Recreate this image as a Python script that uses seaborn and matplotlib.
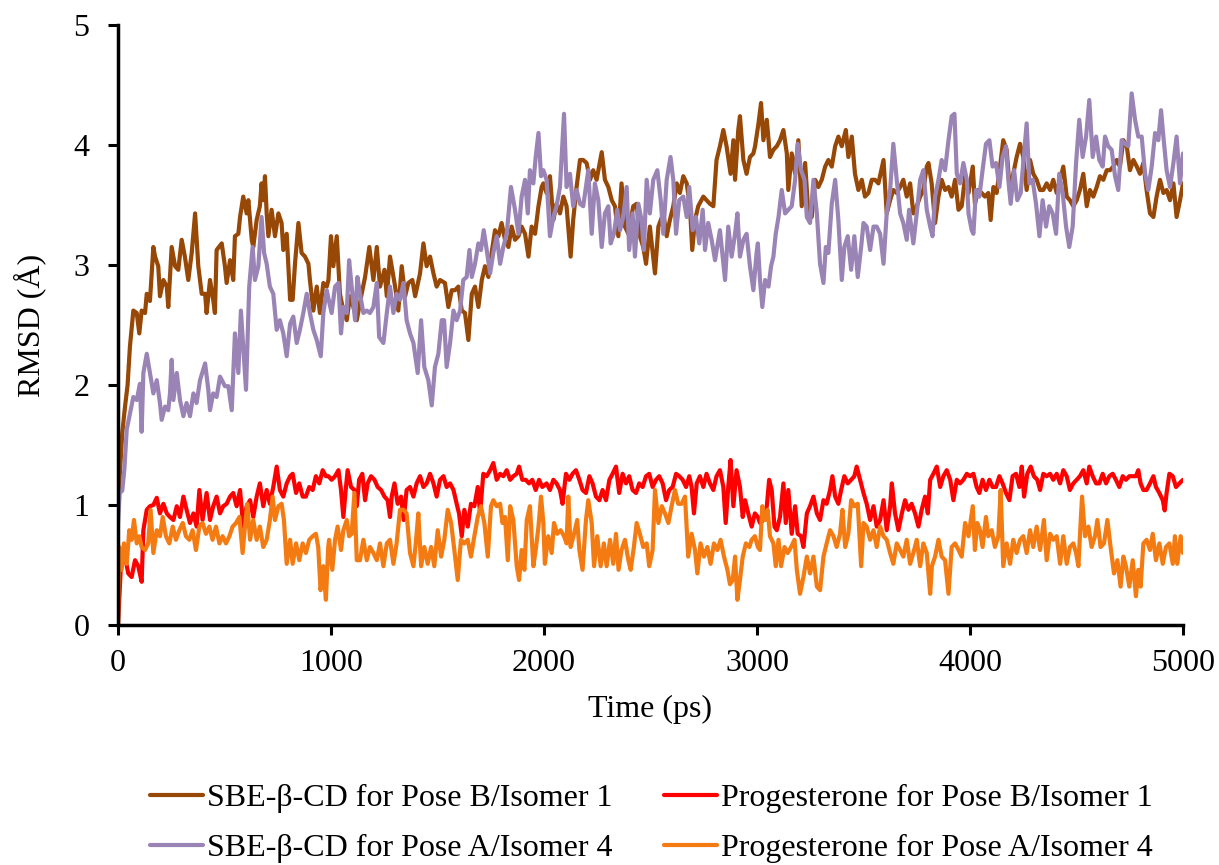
import matplotlib
matplotlib.use("Agg")
import matplotlib.pyplot as plt
import seaborn as sns
import pandas as pd

# (time ps, RMSD Å)
sbe_pose_b = [(0,1.0),(10,1.3),(20,1.6),(33,1.82),(45,2.0),(56,2.32),(72,2.62),(88,2.60),(100,2.43),(111,2.62),(127,2.60),(135,2.76),(150,2.70),(166,3.15),(174,3.07),(189,2.99),(197,2.74),(213,2.875),(229,2.82),(236,2.65),(252,3.15),(268,2.99),(283,2.96),(299,3.21),(314,3.07),(330,2.875),(346,3.10),(362,3.43),(377,2.99),(393,2.76),(409,2.76),(416,2.60),(432,2.875),(447,2.71),(455,2.60),(463,3.125),(487,3.18),(502,2.99),(510,2.85),(526,3.04),(541,2.875),(549,3.24),(565,3.26),(573,3.40),(588,3.57),(604,3.43),(612,3.54),(628,3.21),(635,3.15),(651,3.375),(666,3.49),(674,3.68),(682,3.54),(690,3.74),(698,3.43),(706,3.24),(721,3.46),(737,3.24),(753,3.43),(768,3.35),(776,3.125),(792,3.26),(808,2.71),(820,2.71),(831,3.01),(847,3.35),(862,3.10),(878,3.07),(894,3.01),(901,2.875),(917,2.62),(933,2.82),(948,2.60),(964,2.85),(980,2.82),
(988,2.875),(1000,3.24),(1011,2.99),(1027,3.24),(1042,2.76),(1058,2.62),(1074,2.54),(1089,2.74),(1105,2.65),(1121,2.54),(1144,2.76),(1160,2.90),(1180,3.15),(1199,2.875),(1215,3.15),(1230,2.82),(1251,2.96),(1262,2.74),(1277,3.07),(1301,2.82),(1316,2.62),(1332,2.99),(1348,2.74),(1363,2.85),(1382,2.875),(1395,2.74),(1418,2.93),(1434,3.18),(1449,2.99),(1465,3.07),(1481,2.93),(1496,2.82),(1512,2.875),(1535,2.85),(1551,2.65),(1567,2.79),(1582,2.79),(1598,2.82),(1614,2.62),(1629,2.60),(1645,2.375),(1661,2.76),(1676,2.82),(1692,2.65),(1708,2.875),(1723,2.99),(1739,2.90),(1754,3.10),(1770,3.29),(1786,3.24),(1801,3.35),(1817,3.21),(1833,3.15),(1848,3.32),(1864,3.21),(1880,3.24),(1895,3.32),(1911,3.26),(1927,3.07),(1942,3.32),(1958,3.26),(1974,3.49),
(1989,3.65),(1997,3.68),(2012,3.60),(2028,3.74),(2044,3.375),(2059,3.51),(2075,3.43),(2091,3.57),(2106,3.49),(2125,3.07),(2137,3.375),(2153,3.65),(2169,3.875),(2184,3.875),(2200,3.85),(2216,3.71),(2231,3.79),(2247,3.71),(2271,3.94),(2286,3.71),(2302,3.65),(2318,3.54),(2333,3.49),(2349,3.24),(2364,3.68),(2380,3.32),(2396,3.26),(2419,3.49),(2435,3.51),(2450,3.24),(2466,3.15),(2479,3.01),(2497,3.32),(2521,2.93),(2537,3.32),(2560,3.43),(2576,3.24),(2591,3.375),(2607,3.49),(2623,3.68),(2638,3.60),(2654,3.74),(2670,3.68),(2685,3.49),(2696,3.125),(2709,3.375),(2724,3.49),(2748,3.57),(2763,3.54),(2779,3.51),(2795,3.49),(2810,3.875),(2826,3.99),(2842,4.125),(2857,3.99),(2876,3.76),(2889,4.04),(2897,3.71),(2912,4.125),(2920,4.24),(2936,3.875),(2951,3.76),(2967,3.90),(2983,3.93),
(2991,3.99),(3007,4.18),(3019,4.35),(3030,4.04),(3046,4.21),(3061,3.90),(3077,3.96),(3093,3.99),(3108,4.04),(3124,4.125),(3140,3.93),(3147,3.625),(3163,3.93),(3179,3.76),(3194,4.04),(3210,3.49),(3226,3.85),(3241,3.43),(3257,3.40),(3273,3.71),(3288,3.65),(3304,3.71),(3320,3.82),(3335,3.875),(3351,3.82),(3367,3.99),(3382,4.07),(3398,3.99),(3417,4.125),(3429,3.90),(3445,4.07),(3460,3.76),(3476,3.625),(3492,3.71),(3507,3.57),(3523,3.60),(3539,3.71),(3554,3.71),(3570,3.68),(3594,3.875),(3609,3.43),(3625,3.54),(3640,3.625),(3656,3.60),(3672,3.65),(3687,3.71),(3703,3.57),(3719,3.68),(3734,3.43),(3750,3.49),(3766,3.57),(3781,3.625),(3797,3.82),(3805,3.85),(3820,3.68),(3836,3.35),(3852,3.57),(3867,3.71),(3883,3.625),(3899,3.65),(3914,3.57),(3930,3.71),(3946,3.46),(3961,3.49),(3977,3.74),(3993,3.60),
(4013,3.82),(4023,3.51),(4039,3.625),(4055,3.60),(4070,3.57),(4086,3.60),(4097,3.375),(4110,3.65),(4125,3.60),(4141,3.82),(4156,4.04),(4172,3.96),(4188,3.60),(4203,3.76),(4219,3.90),(4235,4.01),(4250,3.90),(4266,3.625),(4282,3.875),(4297,3.76),(4313,3.71),(4329,3.625),(4344,3.625),(4360,3.68),(4376,3.625),(4391,3.71),(4407,3.60),(4423,3.71),(4438,3.82),(4454,3.57),(4469,3.54),(4485,3.49),(4501,3.54),(4516,3.625),(4532,3.76),(4548,3.49),(4563,3.625),(4579,3.57),(4595,3.65),(4610,3.74),(4626,3.71),(4642,3.79),(4657,3.79),(4673,3.82),(4689,3.875),(4704,3.82),(4720,4.04),(4736,3.99),(4751,3.79),(4767,3.875),(4783,3.82),(4798,3.76),(4814,3.85),(4829,3.625),(4845,3.43),(4861,3.40),(4876,3.57),(4892,3.71),(4908,3.60),(4923,3.625),(4939,3.54),(4955,3.68),(4970,3.40),(4986,3.54),(5000,3.68)]

sbe_pose_a = [(0,0.85),(8,1.1),(20,1.12),(30,1.3),(41,1.63),(56,1.76),(72,1.90),(88,1.875),(103,2.01),(111,1.61),(119,2.10),(135,2.26),(150,2.10),(166,1.93),(182,2.04),(197,1.85),(205,1.71),(221,1.82),(236,1.79),(244,1.93),(252,2.21),(260,1.875),(276,2.10),(291,1.875),(307,1.74),(322,1.85),(338,1.74),(354,1.93),(369,1.85),(385,2.04),(409,2.18),(424,1.96),(432,1.79),(447,1.93),(463,1.90),(479,2.07),(502,1.99),(518,1.99),(534,1.79),(549,2.43),(565,2.10),(577,2.62),(588,2.32),(601,1.96),(616,2.82),(632,3.15),(643,2.875),(659,2.99),(674,3.40),(686,3.10),(698,3.01),(713,2.82),(729,2.76),(745,2.46),(760,2.54),(776,2.43),(792,2.24),(808,2.51),(823,2.57),(839,2.35),(854,2.46),(870,2.60),(886,2.76),(901,2.60),(917,2.46),(933,2.375),(952,2.24),(964,2.60),(980,2.79),
(988,2.72),(1003,2.60),(1019,2.82),(1035,2.85),(1047,2.43),(1058,2.65),(1074,2.60),(1085,3.04),(1097,2.82),(1113,2.54),(1124,2.90),(1136,2.76),(1152,2.60),(1168,2.62),(1183,2.60),(1199,2.65),(1215,2.85),(1226,2.40),(1246,2.35),(1262,2.60),(1277,2.82),(1293,2.60),(1308,2.76),(1324,2.71),(1340,2.85),(1355,2.54),(1371,2.43),(1387,2.35),(1407,2.10),(1423,2.54),(1438,2.15),(1457,2.04),(1473,1.83),(1488,2.15),(1504,2.26),(1520,2.54),(1531,2.54),(1543,2.15),(1559,2.35),(1575,2.62),(1590,2.54),(1606,2.62),(1621,2.875),(1637,2.90),(1650,3.125),(1661,2.90),(1676,3.01),(1692,3.18),(1704,3.125),(1717,3.29),(1731,3.125),(1747,2.93),(1762,3.10),(1778,3.24),(1794,3.01),(1809,3.15),(1825,3.26),(1845,3.65),(1864,3.46),(1880,3.26),(1895,3.57),(1911,3.71),(1924,3.43),(1934,3.79),(1950,3.68),(1961,3.90),(1974,4.10),(1986,3.74),
(1997,3.79),(2012,3.71),(2028,3.24),(2044,3.40),(2059,3.49),(2075,3.65),(2094,4.26),(2106,3.65),(2122,3.76),(2137,3.49),(2153,3.625),(2169,3.51),(2184,3.49),(2208,3.79),(2224,3.26),(2239,3.68),(2255,3.54),(2271,3.15),(2286,3.43),(2302,3.49),(2313,3.18),(2328,3.26),(2344,3.46),(2357,3.29),(2372,3.40),(2388,3.65),(2400,3.125),(2416,3.43),(2427,3.07),(2443,3.51),(2458,3.375),(2469,3.125),(2482,3.71),(2497,3.43),(2513,3.71),(2532,3.79),(2548,3.54),(2560,3.26),(2576,3.71),(2594,3.90),(2607,3.71),(2620,3.26),(2635,3.54),(2654,3.57),(2670,3.40),(2682,3.65),(2698,3.29),(2713,3.40),(2729,3.18),(2745,3.46),(2756,3.125),(2771,3.35),(2787,3.21),(2803,3.04),(2826,3.29),(2839,3.07),(2850,2.875),(2865,3.32),(2881,3.07),(2897,3.26),(2908,3.43),(2920,3.07),(2936,3.21),(2951,3.26),(2967,2.99),(2983,2.79),
(2998,3.10),(3004,3.18),(3014,2.875),(3025,2.65),(3038,2.875),(3054,2.82),(3066,2.99),(3077,3.07),(3088,3.26),(3101,3.40),(3116,3.625),(3132,3.43),(3147,3.46),(3163,3.49),(3179,3.71),(3191,4.01),(3207,3.79),(3223,3.71),(3234,3.40),(3249,3.35),(3265,3.71),(3281,3.43),(3296,3.01),(3312,2.85),(3323,3.15),(3335,3.10),(3351,3.51),(3367,3.71),(3382,3.375),(3398,2.875),(3410,3.15),(3426,3.24),(3442,2.96),(3457,3.24),(3473,2.90),(3489,3.15),(3500,3.35),(3515,3.32),(3531,3.125),(3547,3.32),(3562,3.32),(3578,3.26),(3594,3.01),(3609,3.43),(3625,3.625),(3640,4.01),(3656,3.71),(3672,3.43),(3687,3.35),(3703,3.21),(3714,3.46),(3734,3.18),(3750,3.43),(3766,3.71),(3781,3.79),(3797,3.46),(3813,3.32),(3824,3.24),(3836,3.57),(3852,3.71),(3867,3.875),(3883,3.79),(3899,4.04),(3914,4.24),(3927,4.26),(3938,3.76),(3953,3.68),(3969,3.85),(3985,3.71),(3993,3.43),
(4008,3.29),(4016,3.26),(4028,3.625),(4044,3.57),(4059,3.79),(4075,4.01),(4091,4.04),(4106,3.82),(4122,3.85),(4138,3.65),(4153,3.90),(4169,3.99),(4180,3.71),(4191,3.51),(4207,3.79),(4222,3.54),(4238,3.60),(4250,3.85),(4266,4.18),(4279,3.68),(4294,3.71),(4310,3.51),(4326,3.24),(4341,3.54),(4357,3.32),(4372,3.49),(4388,3.43),(4404,3.26),(4419,3.76),(4435,3.60),(4451,3.32),(4466,3.15),(4482,3.32),(4498,3.85),(4513,4.21),(4529,3.90),(4545,4.07),(4560,4.375),(4576,3.90),(4592,4.07),(4607,3.875),(4623,3.82),(4634,4.07),(4649,3.99),(4665,3.96),(4681,3.74),(4696,3.625),(4712,4.04),(4728,4.01),(4743,3.99),(4759,4.43),(4775,4.21),(4790,4.07),(4806,4.07),(4822,3.76),(4837,3.625),(4853,3.82),(4869,4.10),(4884,4.04),(4897,4.29),(4908,4.07),(4923,3.79),(4939,3.65),(4955,3.85),(4970,4.07),(4986,3.68),(5000,3.93)]

prog_pose_b = [(0,0.0),(9,0.32),(17,0.625),(33,0.57),(48,0.43),(64,0.40),(80,0.54),(95,0.49),(111,0.36),(119,0.79),(135,0.96),(150,0.99),(166,1.0),(182,1.06),(197,0.93),(213,1.01),(229,0.93),(244,0.90),(260,0.875),(276,0.99),(291,0.90),(307,1.07),(322,0.96),(338,0.85),(354,0.93),(369,0.82),(382,1.125),(397,0.875),(416,1.10),(432,0.875),(447,0.99),(463,1.07),(479,0.93),(494,0.99),(510,1.01),(526,1.07),(541,1.10),(557,0.99),(573,1.125),(588,0.82),(604,0.99),(620,1.04),(635,0.90),(651,1.07),(666,1.18),(682,0.99),(698,1.125),(713,1.01),(729,1.15),(745,1.32),(760,1.125),(776,1.07),(792,1.18),(808,1.24),(820,1.26),(836,1.10),(851,1.18),(867,1.07),(882,1.07),(898,1.15),(914,1.125),(929,1.24),(945,1.18),(961,1.29),(976,1.24),
(988,1.24),(1003,1.21),(1019,1.24),(1035,1.29),(1047,1.125),(1058,0.90),(1069,1.125),(1078,1.29),(1094,1.15),(1110,1.125),(1121,0.99),(1132,1.21),(1147,1.26),(1160,1.04),(1172,1.18),(1188,1.24),(1204,1.21),(1219,1.15),(1235,1.125),(1251,1.07),(1266,1.04),(1277,0.90),(1285,1.07),(1298,1.18),(1313,1.01),(1329,1.07),(1341,0.875),(1355,1.125),(1371,1.15),(1387,1.07),(1402,1.18),(1418,1.24),(1434,1.15),(1449,1.18),(1465,1.26),(1481,1.18),(1496,1.07),(1512,1.21),(1528,1.24),(1543,1.15),(1559,1.18),(1575,1.125),(1590,1.01),(1601,0.93),(1614,0.74),(1626,0.96),(1642,0.82),(1657,1.01),(1673,0.99),(1689,1.15),(1700,0.93),(1715,1.26),(1731,1.24),(1747,1.29),(1762,1.35),(1778,1.21),(1794,1.26),(1809,1.24),(1825,1.29),(1841,1.21),(1856,1.24),(1872,1.26),(1883,1.32),(1898,1.21),(1914,1.21),(1930,1.18),(1945,1.21),(1961,1.125),(1977,1.21),(1992,1.15),
(2012,1.18),(2028,1.125),(2044,1.21),(2059,1.18),(2075,1.125),(2087,1.01),(2103,1.26),(2119,1.21),(2134,1.26),(2150,1.29),(2166,1.21),(2181,1.125),(2197,1.10),(2213,1.24),(2228,1.18),(2244,1.07),(2260,1.04),(2275,1.125),(2291,1.04),(2307,1.21),(2322,1.26),(2338,1.32),(2353,1.10),(2369,1.26),(2385,1.18),(2400,1.24),(2416,1.125),(2432,1.10),(2447,1.18),(2463,1.15),(2479,1.24),(2494,1.26),(2510,1.15),(2526,1.21),(2541,1.24),(2557,1.18),(2573,1.04),(2588,1.125),(2604,1.15),(2620,1.26),(2635,1.24),(2651,1.21),(2667,1.15),(2682,1.24),(2693,1.15),(2704,0.93),(2717,1.18),(2732,1.24),(2748,1.15),(2763,1.26),(2779,1.18),(2795,1.125),(2810,1.24),(2826,1.29),(2842,1.15),(2853,0.85),(2865,1.15),(2876,1.375),(2889,0.99),(2904,1.29),(2920,1.15),(2933,0.90),(2944,1.04),(2959,0.93),(2975,0.82),(2990,0.93),
(3004,0.90),(3014,0.85),(3030,0.875),(3046,0.99),(3057,1.21),(3069,1.125),(3082,0.82),(3093,0.79),(3108,0.90),(3124,1.18),(3135,0.85),(3147,1.125),(3163,0.76),(3179,0.99),(3191,0.76),(3207,0.74),(3218,0.65),(3234,0.93),(3249,0.99),(3265,1.07),(3281,0.93),(3296,0.875),(3312,1.04),(3327,1.01),(3343,1.125),(3354,1.24),(3367,1.07),(3382,1.01),(3395,1.125),(3410,1.24),(3426,1.18),(3442,1.21),(3457,1.24),(3468,1.32),(3484,1.21),(3500,1.10),(3515,1.01),(3531,0.875),(3547,0.99),(3562,0.82),(3578,0.875),(3594,1.04),(3609,0.79),(3625,0.99),(3633,1.18),(3648,0.93),(3664,0.79),(3680,0.93),(3695,1.04),(3711,0.96),(3726,1.01),(3742,0.93),(3758,0.82),(3773,0.96),(3789,1.07),(3802,0.93),(3813,1.21),(3828,1.26),(3844,1.32),(3860,1.15),(3875,1.24),(3891,1.29),(3907,1.21),(3922,1.04),(3938,1.21),(3953,1.18),(3969,1.21),(3985,1.26),(4000,1.24),
(4016,1.26),(4031,1.15),(4044,1.10),(4059,1.21),(4075,1.125),(4091,1.21),(4106,1.15),(4122,1.15),(4138,1.24),(4153,1.18),(4169,1.10),(4185,1.04),(4200,1.24),(4216,1.26),(4232,1.15),(4243,1.32),(4254,1.07),(4269,1.26),(4285,1.32),(4300,1.24),(4316,1.21),(4329,1.125),(4344,1.26),(4360,1.24),(4376,1.26),(4391,1.21),(4407,1.26),(4423,1.18),(4438,1.29),(4454,1.24),(4469,1.125),(4485,1.18),(4501,1.21),(4516,1.24),(4532,1.29),(4548,1.18),(4560,1.32),(4576,1.24),(4592,1.18),(4607,1.18),(4623,1.26),(4639,1.18),(4654,1.24),(4670,1.26),(4685,1.21),(4701,1.15),(4717,1.24),(4732,1.21),(4748,1.24),(4764,1.24),(4779,1.24),(4790,1.29),(4801,1.18),(4814,1.125),(4829,1.125),(4845,1.18),(4861,1.24),(4873,1.15),(4889,1.10),(4905,1.04),(4914,0.955),(4923,1.10),(4936,1.26),(4952,1.24),(4967,1.15),(4983,1.18),(5000,1.21)]

prog_pose_a = [(0,0.0),(6,0.65),(17,0.46),(28,0.68),(41,0.51),(53,0.79),(64,0.71),(75,0.875),(88,0.68),(100,0.74),(111,0.65),(127,0.625),(142,0.68),(153,0.96),(166,0.60),(182,0.79),(197,0.74),(210,0.90),(225,0.74),(241,0.68),(257,0.82),(272,0.71),(288,0.79),(304,0.85),(319,0.74),(335,0.71),(350,0.79),(366,0.625),(382,0.82),(397,0.85),(413,0.76),(429,0.82),(444,0.71),(460,0.82),(476,0.68),(491,0.74),(507,0.68),(523,0.74),(538,0.82),(554,0.85),(570,0.90),(585,0.60),(596,0.82),(607,1.01),(620,0.71),(635,0.875),(651,0.71),(666,0.82),(682,0.65),(698,0.71),(713,0.875),(726,1.07),(737,0.875),(753,0.99),(768,1.01),(779,0.875),(792,0.51),(808,0.71),(820,0.51),(836,0.68),(851,0.54),(867,0.68),(882,0.60),(898,0.71),(914,0.74),(929,0.76),(940,0.65),(951,0.29),(964,0.49),(976,0.21),(987,0.65),
(991,0.71),(1006,0.46),(1019,0.71),(1031,0.82),(1047,0.625),(1058,0.79),(1074,0.875),(1085,0.74),(1097,0.76),(1110,1.10),(1121,0.54),(1136,0.54),(1152,0.71),(1168,0.54),(1183,0.65),(1199,0.60),(1215,0.54),(1230,0.68),(1246,0.49),(1262,0.68),(1277,0.71),(1293,0.51),(1308,0.68),(1324,0.96),(1340,0.96),(1355,0.93),(1371,0.60),(1387,0.49),(1398,0.68),(1410,0.93),(1423,0.49),(1438,0.65),(1454,0.51),(1470,0.65),(1485,0.49),(1501,0.79),(1517,0.57),(1532,0.71),(1548,0.96),(1564,0.85),(1579,0.625),(1595,0.375),(1610,0.71),(1626,0.68),(1642,0.71),(1657,0.57),(1673,0.74),(1689,0.90),(1704,0.99),(1720,0.85),(1736,0.57),(1751,0.99),(1762,1.04),(1778,0.99),(1794,1.01),(1805,0.85),(1817,0.90),(1830,0.54),(1841,0.99),(1856,0.875),(1872,0.49),(1883,0.375),(1895,0.625),(1908,0.46),(1919,0.875),(1934,0.99),(1950,0.49),(1961,0.625),(1974,0.82),(1986,1.07),(1997,0.85),
(2004,0.51),(2020,0.74),(2036,0.60),(2047,0.85),(2062,0.76),(2078,0.79),(2094,0.74),(2106,0.68),(2114,1.07),(2125,0.65),(2141,0.76),(2156,0.875),(2166,0.625),(2181,0.46),(2197,0.875),(2208,1.04),(2224,0.85),(2235,0.49),(2250,0.74),(2266,0.49),(2281,0.68),(2294,0.49),(2310,0.71),(2325,0.51),(2338,0.76),(2350,0.46),(2364,0.625),(2380,0.71),(2396,0.54),(2407,0.46),(2422,0.65),(2435,0.85),(2450,0.76),(2466,0.65),(2482,0.68),(2494,0.49),(2510,0.625),(2521,1.125),(2537,0.85),(2553,0.99),(2568,0.93),(2584,0.85),(2599,0.99),(2615,1.125),(2630,1.01),(2646,1.01),(2662,1.07),(2677,0.57),(2693,0.76),(2709,0.625),(2720,0.43),(2735,0.68),(2751,0.57),(2767,0.65),(2782,0.51),(2798,0.68),(2814,0.625),(2829,0.71),(2845,0.57),(2861,0.46),(2873,0.34),(2886,0.375),(2897,0.57),(2908,0.21),(2920,0.375),(2933,0.57),(2948,0.68),(2964,0.65),(2975,0.71),(2990,0.74),
(3004,0.65),(3014,0.625),(3025,0.99),(3038,0.875),(3050,0.96),(3061,0.74),(3077,0.68),(3088,0.49),(3101,0.71),(3113,0.49),(3129,0.65),(3144,0.60),(3160,0.65),(3176,0.71),(3187,0.46),(3202,0.26),(3218,0.40),(3234,0.57),(3249,0.43),(3265,0.57),(3281,0.32),(3296,0.29),(3312,0.57),(3327,0.68),(3343,0.79),(3359,0.74),(3374,0.65),(3390,0.76),(3401,0.96),(3414,0.65),(3429,0.76),(3442,1.04),(3457,0.99),(3473,1.01),(3489,0.49),(3500,0.85),(3515,0.82),(3531,0.71),(3547,0.79),(3562,0.65),(3578,0.82),(3594,0.74),(3609,0.71),(3625,0.60),(3640,0.51),(3656,0.68),(3672,0.625),(3687,0.57),(3703,0.71),(3719,0.51),(3734,0.60),(3750,0.71),(3766,0.49),(3781,0.68),(3797,0.60),(3813,0.26),(3821,0.49),(3836,0.57),(3852,0.71),(3867,0.57),(3883,0.54),(3899,0.26),(3914,0.65),(3930,0.68),(3946,0.625),(3961,0.57),(3977,0.85),(3993,0.74),
(4013,0.99),(4023,0.625),(4034,0.85),(4047,0.79),(4059,0.65),(4075,0.90),(4086,0.74),(4102,0.79),(4117,0.65),(4133,0.74),(4144,1.125),(4156,0.49),(4172,0.68),(4188,0.51),(4203,0.71),(4219,0.60),(4235,0.71),(4250,0.74),(4266,0.60),(4282,0.79),(4297,0.65),(4313,0.82),(4329,0.625),(4347,0.875),(4360,0.54),(4376,0.76),(4391,0.71),(4407,0.74),(4423,0.51),(4438,0.74),(4454,0.51),(4469,0.65),(4485,0.68),(4498,0.60),(4509,0.49),(4516,0.74),(4526,1.07),(4540,0.74),(4556,0.82),(4571,0.65),(4587,0.74),(4598,0.875),(4613,0.65),(4629,0.68),(4645,0.875),(4660,0.65),(4676,0.43),(4692,0.54),(4707,0.32),(4720,0.57),(4732,0.49),(4748,0.32),(4764,0.54),(4779,0.24),(4790,0.46),(4801,0.32),(4814,0.68),(4829,0.71),(4845,0.625),(4858,0.76),(4873,0.54),(4889,0.68),(4905,0.51),(4920,0.65),(4936,0.68),(4952,0.51),(4962,0.74),(4973,0.51),(4989,0.74),(5000,0.60)]

labels = ["SBE-β-CD for Pose B/Isomer 1", "SBE-β-CD for Pose A/Isomer 4",
          "Progesterone for Pose B/Isomer 1", "Progesterone for Pose A/Isomer 4"]
x_ticks = [0, 1000, 2000, 3000, 4000, 5000]
y_ticks = [0, 1, 2, 3, 4, 5]

colors = {labels[0]: "#974706", labels[1]: "#9A84B6",
          labels[2]: "#FF0000", labels[3]: "#F47A12"}

sns.set_theme(style="white")
plt.rcParams["font.family"] = ["Liberation Serif", "DejaVu Serif"]
plt.rcParams["text.color"] = "black"
plt.rcParams["axes.labelcolor"] = "black"

fig = plt.figure(figsize=(12.19, 8.65), dpi=100)
ax = fig.add_axes([118/1219, 1-625/865, (1183-118)/1219, 600/865])

series = [(labels[0], sbe_pose_b), (labels[2], prog_pose_b),
          (labels[1], sbe_pose_a), (labels[3], prog_pose_a)]
for name, pts in series:
    df = pd.DataFrame(pts, columns=["Time", "RMSD"])
    sns.lineplot(data=df, x="Time", y="RMSD", ax=ax, color=colors[name],
                 linewidth=3.0, estimator=None, sort=False, label=name)

FS = 23
ax.set_xlim(0, 5000)
ax.set_ylim(0, 5)
ax.set_xticks(x_ticks)
ax.set_yticks(y_ticks)
ax.set_xlabel("Time (ps)", fontsize=FS, color="black", labelpad=12)
ax.set_ylabel("RMSD (Å)", fontsize=FS, color="black", labelpad=20)
ax.tick_params(axis="both", which="major", direction="out", length=7.5, width=2.2,
               labelsize=FS, colors="black", left=True, bottom=True)
ax.tick_params(axis="y", pad=13)
ax.tick_params(axis="x", pad=10)
for side in ["top", "right"]:
    ax.spines[side].set_visible(False)
for side in ["left", "bottom"]:
    ax.spines[side].set_color("black")
    ax.spines[side].set_linewidth(2.5)
ax.set_facecolor("white")
ax.grid(False)

handles, labs = ax.get_legend_handles_labels()
order = [labs.index(l) for l in labels]
leg = ax.legend([handles[i] for i in order], [labs[i] for i in order],
                loc="center", bbox_to_anchor=(0.501, -0.331), ncol=2, frameon=False,
                fontsize=FS, handlelength=1.65, handletextpad=0.15, columnspacing=1.6,
                labelspacing=0.65)
for t in leg.get_texts():
    t.set_color("black")

fig.savefig("out.png", dpi=100, facecolor="white")
